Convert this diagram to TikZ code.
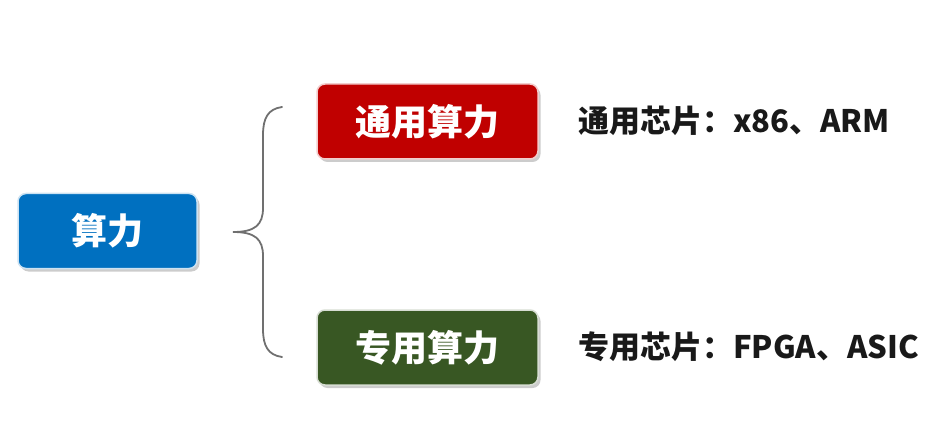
\documentclass[tikz,border=0pt]{standalone}
\usepackage{fontspec}
\newfontfamily\cjk{Noto Sans CJK SC}
\usepackage{tikz}
\usetikzlibrary{shadows}

\definecolor{rootblue}{HTML}{0070C0}
\definecolor{generalred}{HTML}{C00000}
\definecolor{specialgreen}{HTML}{385723}
\definecolor{bracegray}{HTML}{707070}

\tikzset{
  box/.style={rectangle, rounded corners=8pt, fill=#1, draw=#1!20, line width=1.5pt,
    text=white, inner sep=0pt, minimum height=75pt,
    font=\cjk\bfseries\fontsize{36}{40}\selectfont,
    drop shadow={shadow xshift=2.5pt, shadow yshift=-3pt, opacity=0.4, fill=gray}},
  chip/.style={anchor=west, inner sep=0pt, text=black!90,
    font=\cjk\bfseries\fontsize{31}{34}\selectfont}
}

\begin{document}
\begin{tikzpicture}[x=1pt, y=-1pt]
  \useasboundingbox (0,0) rectangle (949,446);

  \node[box=rootblue, minimum width=179pt] (root) at (107.5,231) {算力};
  \node[box=generalred, minimum width=221pt] (general) at (427.5,121.5) {通用算力};
  \node[box=specialgreen, minimum width=221pt] (special) at (427.5,347.5) {专用算力};

  \node[chip] (gchip) at (578,121) {通用芯片：x86、ARM};
  \node[chip] (schip) at (578,347) {专用芯片：FPGA、ASIC};

  % brace
  \coordinate (tip) at (233,232);
  \coordinate (top) at (282,107);
  \coordinate (bot) at (282,357);
  \draw[bracegray, line width=1.8pt, line cap=round]
    (top) .. controls (268,109) and (263,118) .. (263,135) -- (263,208)
    .. controls (263,225) and (255,232) .. (tip)
    .. controls (255,232) and (263,239) .. (263,256) -- (263,329)
    .. controls (263,346) and (268,355) .. (bot);
\end{tikzpicture}
\end{document}
